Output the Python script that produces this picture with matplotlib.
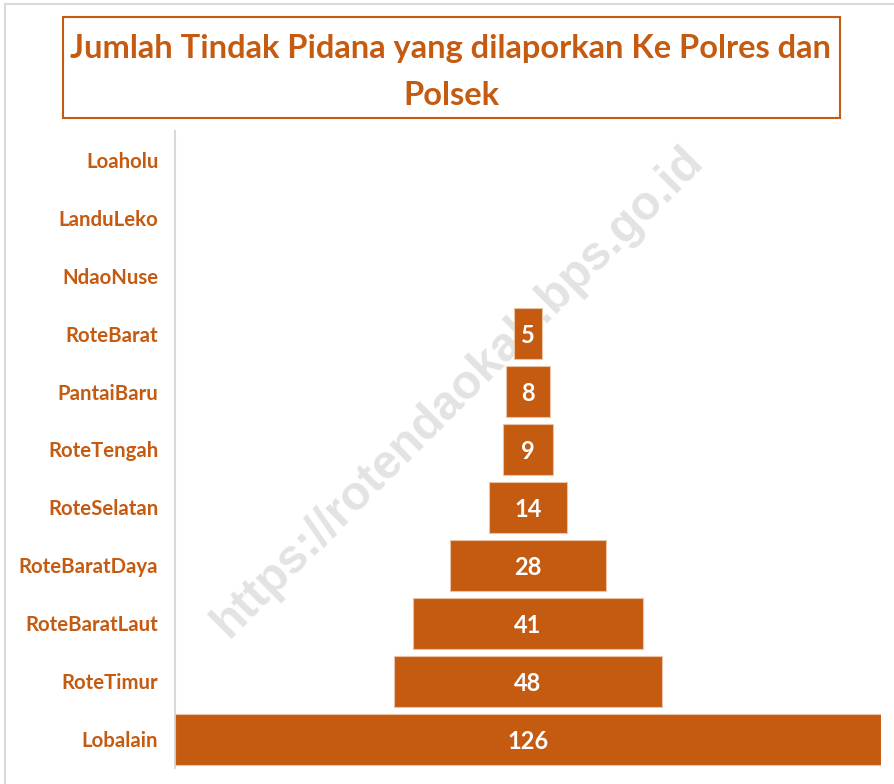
import matplotlib
matplotlib.use("Agg")
import matplotlib.pyplot as plt
from matplotlib.patches import Rectangle

categories = ["Loaholu", "LanduLeko", "NdaoNuse", "RoteBarat", "PantaiBaru",
              "RoteTengah", "RoteSelatan", "RoteBaratDaya", "RoteBaratLaut",
              "RoteTimur", "Lobalain"]
values = [0, 0, 0, 5, 8, 9, 14, 28, 41, 48, 126]
title = "Jumlah Tindak Pidana yang dilaporkan Ke Polres dan\nPolsek"
watermark = "https://rotendaokab.bps.go.id"

ORANGE = "#C55A11"
FONT = ["Lato", "DejaVu Sans"]

fig = plt.figure(figsize=(8.94, 7.84), dpi=100)
fig.patch.set_facecolor("white")

# outer frame (top and left visible)
fig.add_artist(plt.Line2D([5/894, 1.0], [1-4/784, 1-4/784], transform=fig.transFigure,
                          color="#d9d9d9", lw=1.5))
fig.add_artist(plt.Line2D([5/894, 5/894], [0, 1-4/784], transform=fig.transFigure,
                          color="#d9d9d9", lw=1.5))

# title box
fig.add_artist(Rectangle((63/894, 1-118/784), (840-63)/894, (118-17)/784,
                         transform=fig.transFigure, fill=False, edgecolor=ORANGE, lw=1.5))
fig.text(451/894, 1-72/784, title, ha="center", va="center", color=ORANGE,
         fontsize=23.5, fontweight="bold", family=FONT, linespacing=1.75)

ax = fig.add_axes([175/894, 16/784, (881-175)/894, (768-131)/784])
vmax = max(values)
ypos = list(range(len(categories)))
lefts = [(vmax - v) / 2 for v in values]
lws = [0.8 if v > 0 else 0 for v in values]
ax.barh(ypos, values, left=lefts, height=0.88, color=ORANGE,
        edgecolor="#e9c3a6", linewidth=lws, zorder=3)
for y, v, l in zip(ypos, values, lefts):
    if v > 0:
        ax.text(l + v / 2, y + 0.04, str(v), ha="center", va="center", color="white",
                fontsize=17, fontweight="bold", family=FONT, zorder=4)

ax.set_xlim(0, vmax)
ax.set_ylim(len(categories) - 0.5, -0.5)
ax.set_yticks(ypos)
ax.set_yticklabels(categories, color=ORANGE, fontsize=14.7, fontweight="bold", family=FONT)
ax.tick_params(axis="y", length=0, pad=12)
ax.set_xticks([])
for s in ["top", "right", "bottom"]:
    ax.spines[s].set_visible(False)
ax.spines["left"].set_color("#d9d9d9")
ax.spines["left"].set_linewidth(1.5)
ax.patch.set_alpha(0)

ax.text(458/894, 1-392/784, watermark, rotation=45, ha="center", va="center",
        transform=fig.transFigure, color="#e3e3e3", fontsize=34.5, fontweight="bold",
        family=["Liberation Sans"], zorder=1)

fig.savefig("out.png", dpi=100)
